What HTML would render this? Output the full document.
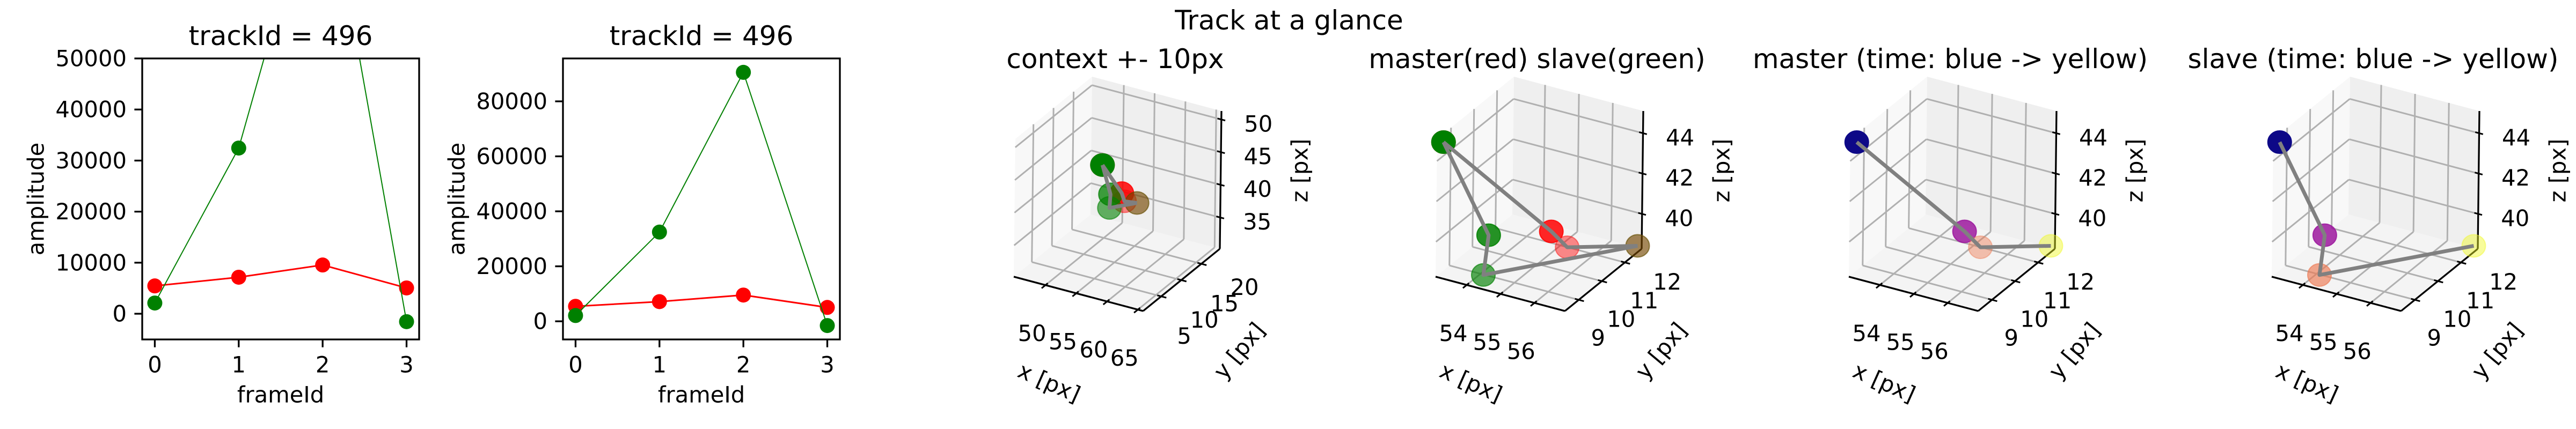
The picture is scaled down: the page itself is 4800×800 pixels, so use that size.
<!DOCTYPE html>
<html><head><meta charset="utf-8"><style>
html,body{margin:0;padding:0;background:#fff;width:4800px;height:800px;overflow:hidden}
svg text{font-family:"DejaVu Sans","Liberation Sans",sans-serif;fill:#000}
</style></head><body>
<svg id="fig" xmlns="http://www.w3.org/2000/svg" width="4800" height="800" viewBox="0 0 4800 800">
<rect x="0" y="0" width="4800" height="800" fill="#fff"/>
<text x="2402" y="38" font-size="50" text-anchor="middle" dominant-baseline="central">Track at a glance</text>
</svg>
<script>
// ---- 2D amplitude data ----
const frames = [0, 1, 2, 3];
const masterAmp = [5450, 7150, 9550, 5050];
const slaveAmp = [2100, 32450, 90550, -1550];
const xTicks2d = [0, 1, 2, 3];
const yTicksA = [0, 10000, 20000, 30000, 40000, 50000];
const yTicksB = [0, 20000, 40000, 60000, 80000];
// ---- 3D track data ----
const masterX = [53.2, 55.8, 55.6, 56.8];
const masterY = [9.5, 10.4, 11.4, 12.7];
const masterZ = [44.9, 40.8, 39.0, 38.4];
const slaveX = [53.2, 54.4, 54.15, 56.8];
const slaveY = [9.5, 9.74, 9.9, 12.7];
const slaveZ = [44.9, 40.6, 38.37, 38.4];
const ctxXTicks = [50, 55, 60, 65];
const ctxYTicks = [5, 10, 15, 20];
const ctxZTicks = [35, 40, 45, 50];
const zoomXTicks = [54, 55, 56];
const zoomYTicks = [9, 10, 11, 12];
const zoomZTicks = [40, 42, 44];

const NS = 'http://www.w3.org/2000/svg';
const fig = document.getElementById('fig');
function mk(tag, attrs, parent) {
  const e = document.createElementNS(NS, tag);
  for (const k in attrs) e.setAttribute(k, attrs[k]);
  (parent || fig).appendChild(e);
  return e;
}

// ---------- 2D charts ----------
function chart2d(c, idx) {
  const g = mk('g', {});
  
  
  const sx = v => c.left + (v - c.xmin) / (c.xmax - c.xmin) * (c.right - c.left);
  const sy = v => c.bottom - (v - c.ymin) / (c.ymax - c.ymin) * (c.bottom - c.top);
  const cid = 'clip2d' + idx;
  const cp = mk('clipPath', {id: cid}, g);
  mk('rect', {x: c.left, y: c.top, width: c.right - c.left, height: c.bottom - c.top}, cp);
  const plot = mk('g', {'clip-path': 'url(#' + cid + ')'}, g);
  const series = [[masterAmp, '#ff0000', 3, 'master'], [slaveAmp, '#008000', 2, 'slave']];
  series.forEach(s => {
    const pts = frames.map((f, i) => sx(f) + ',' + sy(s[0][i])).join(' ');
    const l = mk('polyline', {points: pts, fill: 'none', stroke: s[1], 'stroke-width': s[2]}, plot);
    
    
    frames.forEach((f, i) => {
      const m = mk('circle', {cx: sx(f), cy: sy(s[0][i]), r: 14, fill: s[1]}, plot);
      
      
    });
  });
  const fr = mk('rect', {x: c.left, y: c.top, width: c.right - c.left, height: c.bottom - c.top, fill: 'none', stroke: '#000', 'stroke-width': 3.3}, g);
  
  
  c.yticks.forEach(v => {
    mk('line', {x1: c.left - 14.6, x2: c.left, y1: sy(v), y2: sy(v), stroke: '#000', 'stroke-width': 3.3}, g);
    const t = mk('text', {x: c.left - 29, y: sy(v), 'font-size': 41.7, 'text-anchor': 'end', 'dominant-baseline': 'central'}, g);
    t.textContent = v;
    
    
  });
  xTicks2d.forEach(v => {
    mk('line', {x1: sx(v), x2: sx(v), y1: c.bottom, y2: c.bottom + 14.6, stroke: '#000', 'stroke-width': 3.3}, g);
    const t = mk('text', {x: sx(v), y: 680, 'font-size': 41.7, 'text-anchor': 'middle', 'dominant-baseline': 'central'}, g);
    t.textContent = v;
    
    
  });
  const cx = (c.left + c.right) / 2;
  const ti = mk('text', {x: cx, y: 67, 'font-size': 50, 'text-anchor': 'middle', 'dominant-baseline': 'central'}, g);
  ti.textContent = 'trackId = 496';
  
  
  const xl = mk('text', {x: cx, y: 736, 'font-size': 41.7, 'text-anchor': 'middle', 'dominant-baseline': 'central'}, g);
  xl.textContent = 'frameId';
  
  
  const yx = c.left - 198, yy = (c.top + c.bottom) / 2;
  const yl = mk('text', {x: yx, y: yy, 'font-size': 41.7, 'text-anchor': 'middle', 'dominant-baseline': 'central', transform: 'rotate(-90 ' + yx + ' ' + yy + ')'}, g);
  yl.textContent = 'amplitude';
  
  
}
chart2d({left: 265, right: 781, top: 109, bottom: 633, xmin: -0.15, xmax: 3.15, ymin: -5035, ymax: 50000, yticks: yTicksA}, 1);
chart2d({left: 1049, right: 1565, top: 109, bottom: 633, xmin: -0.15, xmax: 3.15, ymin: -6600, ymax: 95600, yticks: yTicksB}, 2);

// ---------- 3D panels ----------
const VX = [241, 64], VY = [143, -116], VZ = [3, -257];
function panel3d(p, idx) {
  const g = mk('g', {});
  
  
  const D = [p.dx, 516];
  const P = (a, b, c) => [D[0] + a * VX[0] + b * VY[0] + c * VZ[0], D[1] + a * VX[1] + b * VY[1] + c * VZ[1]];
  const nx = v => (v - p.xr[0]) / (p.xr[1] - p.xr[0]);
  const ny = v => (v - p.yr[0]) / (p.yr[1] - p.yr[0]);
  const nz = v => (v - p.zr[0]) / (p.zr[1] - p.zr[0]);
  const poly = (pts, fill, name) => {
    const e = mk('polygon', {points: pts.map(q => q.join(',')).join(' '), fill: fill}, g);
    
    
  };
  poly([P(0,0,0), P(1,0,0), P(1,1,0), P(0,1,0)], '#f4f4f4', 'floor-pane');
  poly([P(0,0,0), P(0,1,0), P(0,1,1), P(0,0,1)], '#f8f8f8', 'left-pane');
  poly([P(0,1,0), P(1,1,0), P(1,1,1), P(0,1,1)], '#efefef', 'back-pane');
  const gl = (a, b) => mk('line', {x1: a[0], y1: a[1], x2: b[0], y2: b[1], stroke: '#b0b0b0', 'stroke-width': 3}, g);
  const inR = t => t >= -0.001 && t <= 1.001;
  p.xt.forEach(v => { const t = nx(v); if (!inR(t)) return; gl(P(t,0,0), P(t,1,0)); gl(P(t,1,0), P(t,1,1)); });
  p.yt.forEach(v => { const t = ny(v); if (!inR(t)) return; gl(P(0,t,0), P(1,t,0)); gl(P(0,t,0), P(0,t,1)); });
  p.zt.forEach(v => { const t = nz(v); if (!inR(t)) return; gl(P(0,0,t), P(0,1,t)); gl(P(0,1,t), P(1,1,t)); });
  const ax = (a, b, name) => {
    const e = mk('line', {x1: a[0], y1: a[1], x2: b[0], y2: b[1], stroke: '#000', 'stroke-width': 3.3}, g);
    
    
  };
  ax(P(0,0,0), P(1,0,0), 'x-axis-line');
  ax(P(1,0,0), P(1,1,0), 'y-axis-line');
  ax(P(1,1,0), P(1,1,1), 'z-axis-line');
  const lab = (q, off, txt, name) => {
    const t = mk('text', {x: q[0] + off[0], y: q[1] + off[1], 'font-size': 41.7, 'text-anchor': 'middle', 'dominant-baseline': 'central'}, g);
    t.textContent = txt;
    
    
  };
  const tk = (a, b) => mk('line', {x1: a[0], y1: a[1], x2: b[0], y2: b[1], stroke: '#000', 'stroke-width': 3}, g);
  p.xt.forEach(v => { const t = nx(v); const q = P(t,0,0); if (inR(t)) tk(P(t,-0.05,0), P(t,0.03,0)); lab(q, [-25, 90], v, 'x-tick-label'); });
  p.yt.forEach(v => { const t = ny(v); const q = P(1,t,0); if (inR(t)) tk(P(0.97,t,0), P(1.04,t,0)); lab(q, p.yOff, v, 'y-tick-label'); });
  p.zt.forEach(v => { const t = nz(v); const q = P(1,1,t); if (inR(t)) tk(P(0.97,1,t), P(1.03,1,t)); lab(q, [69, 8], v, 'z-tick-label'); });
  const drawPts = (X, Y, Z, cols, alphas, name) => {
    X.forEach((v, i) => {
      const q = P(nx(v), ny(Y[i]), nz(Z[i]));
      const c = mk('ellipse', {cx: q[0], cy: q[1], rx: 22, ry: 21, fill: cols[i], 'fill-opacity': alphas[i], stroke: cols[i], 'stroke-opacity': alphas[i], 'stroke-width': 2}, g);
      
      
    });
  };
  const pathOf = (X, Y, Z) => X.map((v, i) => P(nx(v), ny(Y[i]), nz(Z[i])).join(',')).join(' ');
  if (p.showMaster) drawPts(masterX, masterY, masterZ, p.mCols, p.mAlpha, 'master-point');
  if (p.showSlave) drawPts(slaveX, slaveY, slaveZ, p.sCols, p.sAlpha, 'slave-point');
  if (p.showMaster) {
    const l = mk('polyline', {points: pathOf(masterX, masterY, masterZ), fill: 'none', stroke: '#808080', 'stroke-width': 7, 'stroke-linejoin': 'round'}, g);
    
    
  }
  if (p.showSlave) {
    const l = mk('polyline', {points: pathOf(slaveX, slaveY, slaveZ), fill: 'none', stroke: '#808080', 'stroke-width': 7, 'stroke-linejoin': 'round'}, g);
    
    
  }
  const tt = mk('text', {x: p.dx + 189, y: 110, 'font-size': 50, 'text-anchor': 'middle', 'dominant-baseline': 'central'}, g);
  tt.textContent = p.title;
  
  
  const rl = (x, y, rot, txt, name) => {
    const t = mk('text', {x: x, y: y, 'font-size': 41.7, 'text-anchor': 'middle', 'dominant-baseline': 'central', transform: 'rotate(' + rot + ' ' + x + ' ' + y + ')'}, g);
    t.textContent = txt;
    
    
  };
  rl(p.dx + 66, 713, 24, 'x [px]', 'x-axis-title');
  rl(p.dx + 420, 654, -50, 'y [px]', 'y-axis-title');
  rl(p.dx + 533, 318, -90, 'z [px]', 'z-axis-title');
}
const red = '#ff0000', grn = '#008000';
const plasma = ['#0d0887', '#9c179e', '#ed7953', '#f0f921'];
panel3d({dx: 1889, xr: [44.85, 65.85], yr: [0.5, 19.6], zr: [30.2, 51.3], xt: ctxXTicks, yt: ctxYTicks, zt: ctxZTicks, yOff: [43, 74],
  title: 'context +- 10px', showMaster: true, showSlave: true,
  mCols: [red, red, red, red], mAlpha: [1, 0.85, 0.45, 0.45], sCols: [grn, grn, grn, grn], sAlpha: [1, 0.75, 0.6, 0.35]}, 1);
panel3d({dx: 2675, xr: [53.08, 56.9], yr: [9.4, 12.73], zr: [38.27, 45.1], xt: zoomXTicks, yt: zoomYTicks, zt: zoomZTicks, yOff: [79, 36],
  title: 'master(red) slave(green)', showMaster: true, showSlave: true,
  mCols: [red, red, red, red], mAlpha: [1, 0.85, 0.45, 0.45], sCols: [grn, grn, grn, grn], sAlpha: [1, 0.85, 0.65, 0.35]}, 2);
panel3d({dx: 3445, xr: [53.08, 56.9], yr: [9.4, 12.73], zr: [38.27, 45.1], xt: zoomXTicks, yt: zoomYTicks, zt: zoomZTicks, yOff: [79, 36],
  title: 'master (time: blue -> yellow)', showMaster: true, showSlave: false,
  mCols: plasma, mAlpha: [1, 0.85, 0.45, 0.45]}, 3);
panel3d({dx: 4233, xr: [53.08, 56.9], yr: [9.4, 12.73], zr: [38.27, 45.1], xt: zoomXTicks, yt: zoomYTicks, zt: zoomZTicks, yOff: [79, 36],
  title: 'slave (time: blue -> yellow)', showMaster: false, showSlave: true,
  sCols: plasma, sAlpha: [1, 0.85, 0.65, 0.45]}, 4);
</script>
</body></html>
